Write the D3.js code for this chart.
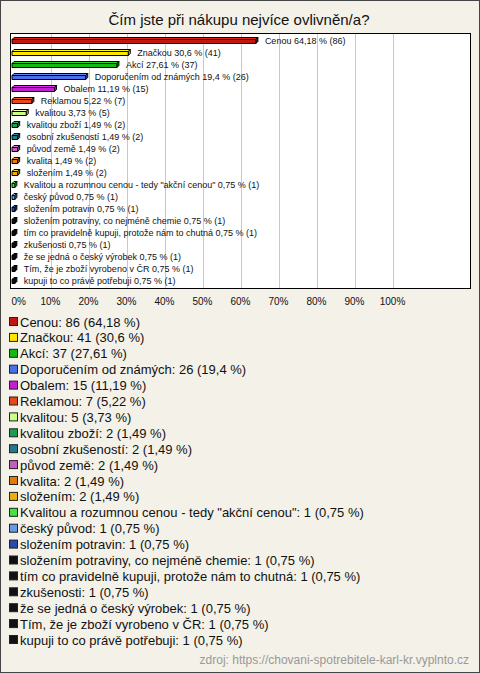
<!DOCTYPE html>
<html><head><meta charset="utf-8">
<script src="https://cdn.jsdelivr.net/npm/d3@7"></script>
<style>html,body{margin:0;padding:0;background:#f3f1e8;}svg{display:block;font-family:"Liberation Sans",Arial,sans-serif;}</style>
</head><body>
<script>
const title = "Čím jste při nákupu nejvíce ovlivněn/a?";
const categories = ["Cenou","Značkou","Akcí","Doporučením od známých","Obalem","Reklamou","kvalitou","kvalitou zboží","osobní zkušeností","původ země","kvalita","složením","Kvalitou a rozumnou cenou - tedy \"akční cenou\"","český původ","složením potravin","složením potraviny, co nejméně chemie","tím co pravidelně kupuji, protože nám to chutná","zkušenosti","že se jedná o český výrobek","Tím, že je zboží vyrobeno v ČR","kupuji to co právě potřebuji"];
const counts = [86,41,37,26,15,7,5,2,2,2,2,2,1,1,1,1,1,1,1,1,1];
const percents = [64.18,30.6,27.61,19.4,11.19,5.22,3.73,1.49,1.49,1.49,1.49,1.49,0.75,0.75,0.75,0.75,0.75,0.75,0.75,0.75,0.75];
const colors = ["#c0170f","#ffe600","#14b814","#4a6fe6","#c21fd0","#e8461c","#ccff88","#1f9a5a","#1f7a8c","#c060c0","#e8780c","#e8b00c","#44e044","#6a9ae6","#2a4aa8","#111111","#111111","#111111","#111111","#111111","#111111"];
const ticks = [0,10,20,30,40,50,60,70,80,90,100];
const source = "zdroj: https://chovani-spotrebitele-karl-kr.vyplnto.cz";

const W=480,H=673;
const fmt = v => String(v).replace(".", ",");
const svg = d3.select("body").append("svg").attr("width",W).attr("height",H);
svg.append("rect").attr("x",0.5).attr("y",0.5).attr("width",W-1).attr("height",H-1).attr("fill","#f3f1e8").attr("stroke","#444");

svg.append("text").attr("x",239).attr("y",25).attr("text-anchor","middle").attr("font-size",15).attr("fill","#111").text(title);

const plot = {l:10.5,t:33.5,r:470.5,b:288.5};
svg.append("rect").attr("x",plot.l).attr("y",plot.t).attr("width",plot.r-plot.l).attr("height",plot.b-plot.t).attr("fill","#fff");

const x = d3.scaleLinear().domain([0,100]).range([12,392]);
const y = d3.scalePoint().domain(categories).range([41,281]);

// grid
const grid = svg.append("g").attr("transform",`translate(0,${plot.b})`)
  .call(d3.axisBottom(x).tickValues(ticks.slice(1)).tickSize(-(plot.b-plot.t)).tickFormat(""));
grid.select(".domain").remove();
grid.selectAll(".tick line").attr("stroke","#c8c8c8").attr("shape-rendering","crispEdges").attr("transform","translate(0.5,0)");

// axis labels
const ax = svg.append("g").attr("transform",`translate(0,${plot.b})`)
  .call(d3.axisBottom(x).tickValues(ticks).tickSize(0).tickPadding(9).tickFormat(d=>d+"%"));
ax.select(".domain").remove();
ax.selectAll("text").attr("font-size",10).attr("fill","#111").attr("font-family","Liberation Sans, Arial, sans-serif");
ax.selectAll(".tick").filter(d=>d===0).select("text").attr("text-anchor","start").attr("x",-1);

// bars 3D
const dep = 2;
const data = categories.map((c,i)=>({c,n:counts[i],p:percents[i],col:colors[i]}));
const bars = svg.append("g");
data.forEach(d=>{
  const x0=x(0), x1=x(d.p), cy=y(d.c);
  const yt=cy-1.5, yb=cy+2.5;
  const base=d3.color(d.col);
  const g=bars.append("g").attr("stroke","#000").attr("stroke-width",1).attr("stroke-linejoin","round");
  g.append("path").attr("d",`M${x0},${yt}L${x0+dep},${yt-dep}L${x1+dep},${yt-dep}L${x1},${yt}Z`).attr("fill",base.brighter(0.6));
  g.append("path").attr("d",`M${x1},${yt}L${x1+dep},${yt-dep}L${x1+dep},${yb-dep}L${x1},${yb}Z`).attr("fill",base.darker(0.6));
  g.append("rect").attr("x",x0).attr("y",yt).attr("width",Math.max(0,x1-x0)).attr("height",yb-yt).attr("fill",d.col);
  svg.append("text").attr("x",x1+9).attr("y",cy+3.2).attr("font-size",9).attr("fill","#111")
    .text(`${d.c} ${fmt(d.p)} % (${d.n})`);
});

svg.append("rect").attr("x",plot.l).attr("y",plot.t).attr("width",plot.r-plot.l).attr("height",plot.b-plot.t).attr("fill","none").attr("stroke","#000");

// legend
const ly = d3.scaleLinear().domain([0,categories.length-1]).range([322,640]);
const leg = svg.append("g");
data.forEach((d,i)=>{
  const cy=ly(i);
  leg.append("rect").attr("x",9.5).attr("y",cy-4.5).attr("width",8).attr("height",8).attr("fill",d.col).attr("stroke","#222");
  leg.append("text").attr("x",20).attr("y",cy+4.5).attr("font-size",13).attr("fill","#111")
    .text(`${d.c}: ${d.n} (${fmt(d.p)} %)`);
});

svg.append("text").attr("x",469).attr("y",664).attr("text-anchor","end").attr("font-size",12).attr("fill","#999").text(source);
</script>
</body></html>
